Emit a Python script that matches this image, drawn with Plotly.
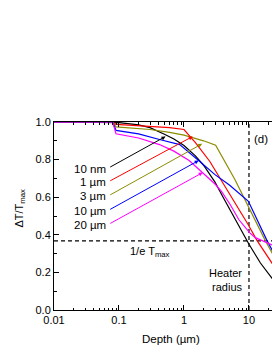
import numpy as np
import plotly.graph_objects as go

# ---- data ----
labels = ["10 nm", "1 µm", "3 µm", "10 µm", "20 µm"]
colors = ["#000000", "#ff0000", "#8c8c00", "#0000ff", "#ff00ff"]

black_x = [0.01, 0.08, 0.1, 0.2, 0.3, 0.5, 0.7, 1.0, 1.5, 2.0, 3.0, 4.0, 5.0, 7.0, 10.0, 15.0, 23.0]
black_y = [1.0, 1.0, 0.997, 0.985, 0.97, 0.935, 0.91, 0.875, 0.82, 0.77, 0.68, 0.60, 0.54, 0.45, 0.35, 0.25, 0.165]

red_x = [0.01, 0.08, 0.09, 0.3, 0.6, 1.0, 1.5, 2.5, 4.27, 6.4, 9.7, 13.1, 23.0]
red_y = [1.0, 1.0, 0.987, 0.978, 0.97, 0.96, 0.89, 0.79, 0.658, 0.555, 0.455, 0.373, 0.245]

olive_x = [0.01, 0.08, 0.09, 0.3, 0.6, 1.0, 2.0, 3.07, 6.1, 8.9, 17.6, 23.0]
olive_y = [1.0, 1.0, 0.974, 0.96, 0.945, 0.93, 0.9, 0.876, 0.693, 0.578, 0.373, 0.30]

blue_x = [0.01, 0.08, 0.09, 0.2, 0.42, 0.86, 1.75, 3.0, 5.0, 9.8, 18.7, 23.0]
blue_y = [1.0, 1.0, 0.955, 0.937, 0.907, 0.88, 0.79, 0.72, 0.665, 0.578, 0.373, 0.315]

magenta_x = [0.01, 0.08, 0.09, 0.2, 0.42, 0.7, 1.2, 1.96, 3.0, 3.8, 5.05, 7.0, 10.3, 12.5, 23.0]
magenta_y = [1.0, 1.0, 0.937, 0.915, 0.88, 0.845, 0.795, 0.73, 0.67, 0.63, 0.565, 0.48, 0.41, 0.385, 0.345]

series_x = [black_x, red_x, olive_x, blue_x, magenta_x]
series_y = [black_y, red_y, olive_y, blue_y, magenta_y]

# arrow tips (on curves) and tails (next to labels), data coords
tip_x = [0.52, 1.36, 1.9, 1.68, 1.94]
tip_y = [0.923, 0.923, 0.884, 0.795, 0.731]
tail_x = [0.0695] * 5
tail_y = [0.756, 0.683, 0.608, 0.531, 0.456]
label_x = 0.067
label_y = [0.75, 0.681, 0.608, 0.528, 0.453]

one_over_e = 1 / np.e
heater_radius = 10.0

x_ticks = [0.01, 0.1, 1, 10]
x_ticktext = ["0.01", "0.1", "1", "10"]
x_minor = [m * 10.0 ** d for d in range(-2, 2) for m in range(2, 10)]

FONT = "Liberation Sans, Arial, sans-serif"

fig = go.Figure()

# reference dashed lines
fig.add_trace(go.Scatter(x=[0.01, 30], y=[one_over_e, one_over_e], mode="lines",
                         line=dict(color="black", width=1.2, dash="4px,3px"),
                         showlegend=False, hoverinfo="skip"))
fig.add_trace(go.Scatter(x=[heater_radius, heater_radius], y=[0, 1], mode="lines",
                         line=dict(color="black", width=1.2, dash="4px,3px"),
                         showlegend=False, hoverinfo="skip"))

for xs, ys, c, name in zip(series_x, series_y, colors, labels):
    fig.add_trace(go.Scatter(x=xs, y=ys, mode="lines", name=name,
                             line=dict(color=c, width=1.2), showlegend=False))

annotations = []
for i in range(5):
    annotations.append(dict(
        x=np.log10(tip_x[i]), y=tip_y[i], xref="x", yref="y",
        ax=np.log10(tail_x[i]), ay=tail_y[i], axref="x", ayref="y",
        text="", showarrow=True, arrowhead=2, arrowsize=0.8, arrowwidth=1,
        arrowcolor=colors[i], standoff=0, startstandoff=0))
    annotations.append(dict(
        x=np.log10(label_x), y=label_y[i], xref="x", yref="y",
        text=labels[i], showarrow=False, xanchor="right", yanchor="middle",
        font=dict(size=11.5, color="black", family=FONT)))

annotations += [
    dict(x=np.log10(0.296), y=0.311, xref="x", yref="y", text="1/e T<sub>max</sub>",
         showarrow=False, xanchor="center", yanchor="middle",
         font=dict(size=11, color="black", family=FONT)),
    dict(x=np.log10(8.7), y=0.157, xref="x", yref="y", text="Heater<br>radius",
         showarrow=False, xanchor="right", yanchor="middle", align="right",
         font=dict(size=11, color="black", family=FONT)),
    dict(x=np.log10(15.4), y=0.907, xref="x", yref="y", text="(d)",
         showarrow=False, xanchor="center", yanchor="middle",
         font=dict(size=11.5, color="black", family=FONT)),
    dict(x=-0.157, y=0.544, xref="paper", yref="paper", text="ΔT/T<sub>max</sub>",
         showarrow=False, textangle=-90, xanchor="center", yanchor="middle",
         font=dict(size=11, color="black", family=FONT)),
    dict(x=0.537, y=-0.155, xref="paper", yref="paper", text="Depth (µm)",
         showarrow=False, xanchor="center", yanchor="middle",
         font=dict(size=11.5, color="black", family=FONT)),
]

fig.update_layout(
    width=272, height=352,
    margin=dict(l=54, r=0, t=122, b=42, autoexpand=False),
    paper_bgcolor="white", plot_bgcolor="white",
    font=dict(family=FONT, size=11, color="black"),
    annotations=annotations,
    showlegend=False,
)
fig.update_xaxes(type="log", range=[-2, np.log10(22.6)],
                 tickvals=x_ticks, ticktext=x_ticktext,
                 ticks="inside", ticklen=5, tickwidth=1, tickcolor="black",
                 minor=dict(tickvals=x_minor, ticks="inside", ticklen=2.5,
                            tickwidth=1, tickcolor="black", showgrid=False),
                 showline=True, linecolor="black", linewidth=1, mirror="ticks",
                 showgrid=False, zeroline=False,
                 tickfont=dict(size=11, family=FONT, color="black"))
fig.update_yaxes(range=[0, 1], dtick=0.2, tick0=0, tickformat=".1f",
                 ticks="inside", ticklen=5, tickwidth=1, tickcolor="black",
                 minor=dict(dtick=0.1, ticks="inside", ticklen=2.5,
                            tickwidth=1, tickcolor="black", showgrid=False),
                 showline=True, linecolor="black", linewidth=1, mirror=False,
                 showgrid=False, zeroline=False,
                 tickfont=dict(size=11, family=FONT, color="black"))

# place the figure at the window's top-left corner with no page margins or scrollbars
fig.write_html(
    "out.html",
    config={"displayModeBar": False},
    post_script="document.body.style.margin='0';"
                "document.documentElement.style.overflow='hidden';"
                "document.body.style.overflow='hidden';",
)
